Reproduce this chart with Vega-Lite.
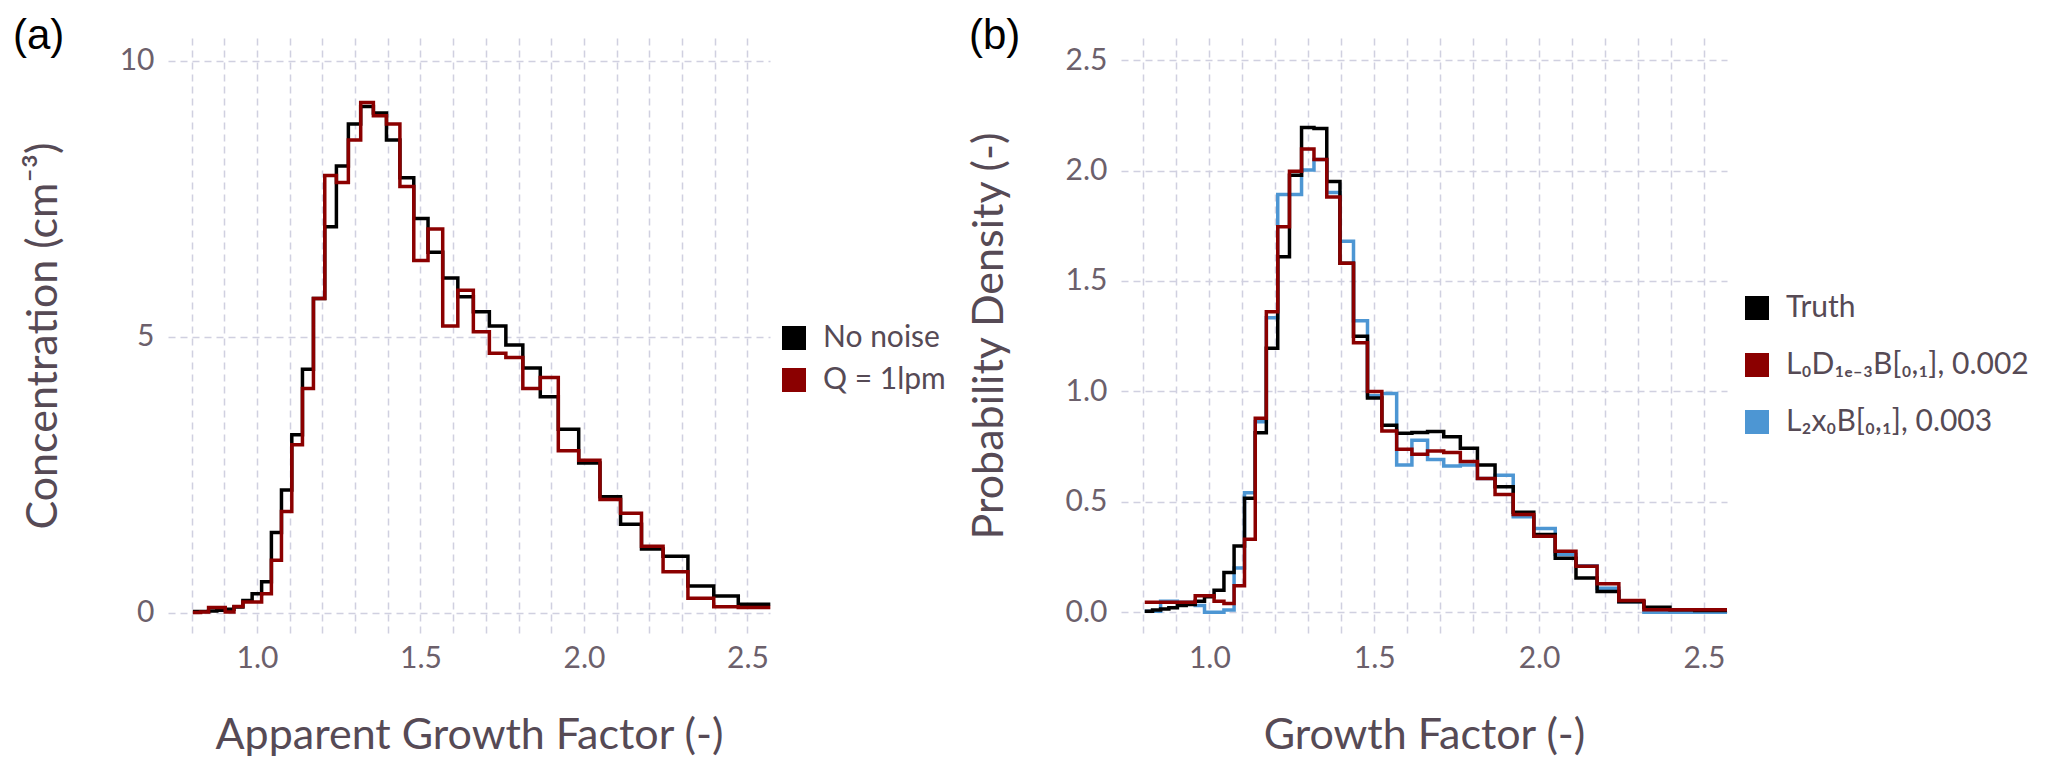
{
  "$schema": "https://vega.github.io/schema/vega-lite/v6.json",
  "background": "white",
  "padding": {"left": 13, "top": 15, "right": 5, "bottom": 5},
  "datasets": {
    "a": [
      {"x": 0.804, "noise": 0.02, "q1lpm": 0.0},
      {"x": 0.8277, "noise": 0.02, "q1lpm": 0.01},
      {"x": 0.8521, "noise": 0.03, "q1lpm": 0.09},
      {"x": 0.8772, "noise": 0.04, "q1lpm": 0.09},
      {"x": 0.903, "noise": 0.06, "q1lpm": 0.01},
      {"x": 0.9297, "noise": 0.1, "q1lpm": 0.11},
      {"x": 0.9571, "noise": 0.22, "q1lpm": 0.19},
      {"x": 0.9853, "noise": 0.34, "q1lpm": 0.19},
      {"x": 1.0143, "noise": 0.56, "q1lpm": 0.34},
      {"x": 1.0442, "noise": 1.45, "q1lpm": 0.95},
      {"x": 1.075, "noise": 2.22, "q1lpm": 1.83},
      {"x": 1.1066, "noise": 3.22, "q1lpm": 3.04},
      {"x": 1.1392, "noise": 4.41, "q1lpm": 4.06},
      {"x": 1.1728, "noise": 5.69, "q1lpm": 5.69},
      {"x": 1.2074, "noise": 6.99, "q1lpm": 7.92},
      {"x": 1.243, "noise": 8.09, "q1lpm": 7.79},
      {"x": 1.2796, "noise": 8.85, "q1lpm": 8.56},
      {"x": 1.3173, "noise": 9.17, "q1lpm": 9.24},
      {"x": 1.3561, "noise": 9.05, "q1lpm": 9.0},
      {"x": 1.3961, "noise": 8.56, "q1lpm": 8.85},
      {"x": 1.4372, "noise": 7.88, "q1lpm": 7.72},
      {"x": 1.4796, "noise": 7.14, "q1lpm": 6.38},
      {"x": 1.5232, "noise": 6.53, "q1lpm": 6.95},
      {"x": 1.5681, "noise": 6.06, "q1lpm": 5.19},
      {"x": 1.6143, "noise": 5.72, "q1lpm": 5.84},
      {"x": 1.6618, "noise": 5.45, "q1lpm": 5.09},
      {"x": 1.7108, "noise": 5.19, "q1lpm": 4.7},
      {"x": 1.7612, "noise": 4.85, "q1lpm": 4.62},
      {"x": 1.8131, "noise": 4.43, "q1lpm": 4.06},
      {"x": 1.8665, "noise": 3.91, "q1lpm": 4.26},
      {"x": 1.9216, "noise": 3.32, "q1lpm": 2.93},
      {"x": 1.984, "noise": 2.71, "q1lpm": 2.76},
      {"x": 2.049, "noise": 2.1, "q1lpm": 2.05},
      {"x": 2.112, "noise": 1.6, "q1lpm": 1.8},
      {"x": 2.176, "noise": 1.15, "q1lpm": 1.2},
      {"x": 2.242, "noise": 1.02, "q1lpm": 0.74},
      {"x": 2.318, "noise": 0.48, "q1lpm": 0.26},
      {"x": 2.397, "noise": 0.3, "q1lpm": 0.105},
      {"x": 2.472, "noise": 0.15, "q1lpm": 0.09},
      {"x": 2.57, "noise": 0.15, "q1lpm": 0.09}
    ],
    "b": [
      {"x": 0.804, "truth": 0.005, "l0": 0.045, "l2": 0.005},
      {"x": 0.8277, "truth": 0.01, "l0": 0.045, "l2": 0.005},
      {"x": 0.8521, "truth": 0.015, "l0": 0.045, "l2": 0.05},
      {"x": 0.8772, "truth": 0.02, "l0": 0.045, "l2": 0.05},
      {"x": 0.903, "truth": 0.03, "l0": 0.045, "l2": 0.045},
      {"x": 0.9297, "truth": 0.035, "l0": 0.045, "l2": 0.045},
      {"x": 0.9571, "truth": 0.05, "l0": 0.075, "l2": 0.03},
      {"x": 0.9853, "truth": 0.07, "l0": 0.075, "l2": 0.0},
      {"x": 1.0143, "truth": 0.1, "l0": 0.05, "l2": 0.0},
      {"x": 1.0442, "truth": 0.18, "l0": 0.04, "l2": 0.01},
      {"x": 1.075, "truth": 0.3, "l0": 0.12, "l2": 0.2},
      {"x": 1.1066, "truth": 0.516, "l0": 0.33, "l2": 0.541},
      {"x": 1.1392, "truth": 0.813, "l0": 0.878, "l2": 0.863},
      {"x": 1.1728, "truth": 1.195, "l0": 1.36, "l2": 1.333},
      {"x": 1.2074, "truth": 1.609, "l0": 1.745, "l2": 1.891},
      {"x": 1.243, "truth": 1.979, "l0": 1.997, "l2": 1.891},
      {"x": 1.2796, "truth": 2.195, "l0": 2.097, "l2": 2.002},
      {"x": 1.3173, "truth": 2.19, "l0": 2.05, "l2": 2.05},
      {"x": 1.3561, "truth": 1.95, "l0": 1.88, "l2": 1.9},
      {"x": 1.3961, "truth": 1.58, "l0": 1.58, "l2": 1.68},
      {"x": 1.4372, "truth": 1.25, "l0": 1.22, "l2": 1.32},
      {"x": 1.4796, "truth": 0.97, "l0": 1.0, "l2": 0.98},
      {"x": 1.5232, "truth": 0.847, "l0": 0.821, "l2": 0.99},
      {"x": 1.5681, "truth": 0.81, "l0": 0.738, "l2": 0.667},
      {"x": 1.6143, "truth": 0.814, "l0": 0.715, "l2": 0.779},
      {"x": 1.6618, "truth": 0.818, "l0": 0.73, "l2": 0.692},
      {"x": 1.7108, "truth": 0.795, "l0": 0.723, "l2": 0.662},
      {"x": 1.7612, "truth": 0.742, "l0": 0.682, "l2": 0.667},
      {"x": 1.8131, "truth": 0.667, "l0": 0.605, "l2": 0.605},
      {"x": 1.8665, "truth": 0.568, "l0": 0.533, "l2": 0.62},
      {"x": 1.9216, "truth": 0.453, "l0": 0.442, "l2": 0.432},
      {"x": 1.984, "truth": 0.352, "l0": 0.344, "l2": 0.379},
      {"x": 2.049, "truth": 0.245, "l0": 0.276, "l2": 0.261},
      {"x": 2.112, "truth": 0.155, "l0": 0.208, "l2": 0.21},
      {"x": 2.176, "truth": 0.094, "l0": 0.129, "l2": 0.109},
      {"x": 2.242, "truth": 0.048, "l0": 0.053, "l2": 0.048},
      {"x": 2.318, "truth": 0.023, "l0": 0.011, "l2": 0.0},
      {"x": 2.397, "truth": 0.011, "l0": 0.011, "l2": 0.0},
      {"x": 2.472, "truth": 0.008, "l0": 0.011, "l2": 0.0},
      {"x": 2.57, "truth": 0.008, "l0": 0.011, "l2": 0.0}
    ]
  },
  "config": {
    "font": "Lato",
    "view": {"stroke": null},
    "axis": {
      "domain": false,
      "ticks": false,
      "grid": true,
      "gridColor": "#D0D0E0",
      "gridDash": [7, 5],
      "gridWidth": 1.5,
      "labelFont": "Lato",
      "labelFontSize": 30,
      "labelColor": "#6c606b",
      "labelOverlap": false,
      "labelFlush": false,
      "titleFont": "Lato",
      "titleFontSize": 43,
      "titleFontWeight": "normal",
      "titleColor": "#564a55"
    },
    "axisX": {"labelPadding": 10, "titlePadding": 41},
    "axisY": {"labelPadding": 14, "titlePadding": 54},
    "legend": {
      "orient": "none",
      "title": null,
      "symbolType": "square",
      "symbolSize": 576,
      "symbolStrokeWidth": 0,
      "symbolOpacity": 1,
      "labelFont": "Lato",
      "labelFontSize": 30,
      "labelColor": "#564a55",
      "labelOffset": 14,
      "labelLimit": 500,
      "padding": 0
    },
    "title": {
      "font": "Liberation Sans",
      "fontSize": 42,
      "fontWeight": "normal",
      "color": "black",
      "anchor": "start",
      "frame": "group",
      "baseline": "bottom",
      "offset": 0
    },
    "line": {"interpolate": "step-after", "strokeWidth": 3.5}
  },
  "spacing": 22,
  "resolve": {"scale": {"color": "independent"}, "legend": {"color": "independent"}},
  "hconcat": [
    {
      "width": 602,
      "height": 595,
      "title": {"text": "(a)", "dx": -155, "dy": 24},
      "data": {"name": "a"},
      "encoding": {
        "x": {
          "field": "x",
          "type": "quantitative",
          "scale": {"domain": [0.728, 2.569], "nice": false, "zero": false},
          "axis": {
            "title": "Apparent Growth Factor (-)",
            "values": [0.8, 0.9, 1.0, 1.1, 1.2, 1.3, 1.4, 1.5, 1.6, 1.7, 1.8, 1.9, 2.0, 2.1, 2.2, 2.3, 2.4, 2.5],
            "labelExpr": "indexof(['1.0', '1.5', '2.0', '2.5'], format(datum.value, '.1f')) >= 0 ? format(datum.value, '.1f') : ''"
          }
        },
        "y": {
          "type": "quantitative",
          "scale": {"domain": [-0.37, 10.41], "nice": false, "zero": false},
          "axis": {"title": "Concentration (cm⁻³)", "values": [0, 5, 10], "format": "d"}
        }
      },
      "layer": [
        {
          "transform": [{"filter": "datum.x > 10"}],
          "mark": {"type": "square", "opacity": 1},
          "encoding": {
            "y": {"field": "noise"},
            "color": {
              "datum": "No noise",
              "type": "nominal",
              "scale": {"domain": ["No noise", "Q = 1lpm"], "range": ["#000000", "#8b0000"]},
              "legend": {"legendX": 611, "legendY": 285, "rowPadding": 12}
            }
          }
        },
        {
          "mark": {"type": "line"},
          "encoding": {
            "y": {"field": "noise"},
            "color": {"datum": "No noise", "type": "nominal", "legend": null}
          }
        },
        {
          "mark": {"type": "line"},
          "encoding": {
            "y": {"field": "q1lpm"},
            "color": {"datum": "Q = 1lpm", "type": "nominal", "legend": null}
          }
        }
      ]
    },
    {
      "width": 606,
      "height": 595,
      "title": {"text": "(b)", "dx": -152, "dy": 24},
      "data": {"name": "b"},
      "encoding": {
        "x": {
          "field": "x",
          "type": "quantitative",
          "scale": {"domain": [0.732, 2.57], "nice": false, "zero": false},
          "axis": {
            "title": "Growth Factor (-)",
            "values": [0.8, 0.9, 1.0, 1.1, 1.2, 1.3, 1.4, 1.5, 1.6, 1.7, 1.8, 1.9, 2.0, 2.1, 2.2, 2.3, 2.4, 2.5],
            "labelExpr": "indexof(['1.0', '1.5', '2.0', '2.5'], format(datum.value, '.1f')) >= 0 ? format(datum.value, '.1f') : ''"
          }
        },
        "y": {
          "type": "quantitative",
          "scale": {"domain": [-0.094, 2.6], "nice": false, "zero": false},
          "axis": {"title": "Probability Density (-)", "values": [0, 0.5, 1, 1.5, 2, 2.5], "format": ".1f"}
        }
      },
      "layer": [
        {
          "transform": [{"filter": "datum.x > 10"}],
          "mark": {"type": "square", "opacity": 1},
          "encoding": {
            "y": {"field": "truth"},
            "color": {
              "datum": "Truth",
              "type": "nominal",
              "scale": {
                "domain": ["Truth", "L₀D₁ₑ₋₃B[₀,₁], 0.002", "L₂x₀B[₀,₁], 0.003"],
                "range": ["#000000", "#8b0000", "#4d96d3"]
              },
              "legend": {"legendX": 621, "legendY": 255, "rowPadding": 27}
            }
          }
        },
        {
          "mark": {"type": "line"},
          "encoding": {
            "y": {"field": "l2"},
            "color": {"datum": "L₂x₀B[₀,₁], 0.003", "type": "nominal", "legend": null}
          }
        },
        {
          "mark": {"type": "line"},
          "encoding": {
            "y": {"field": "truth"},
            "color": {"datum": "Truth", "type": "nominal", "legend": null}
          }
        },
        {
          "mark": {"type": "line"},
          "encoding": {
            "y": {"field": "l0"},
            "color": {"datum": "L₀D₁ₑ₋₃B[₀,₁], 0.002", "type": "nominal", "legend": null}
          }
        }
      ]
    }
  ]
}
